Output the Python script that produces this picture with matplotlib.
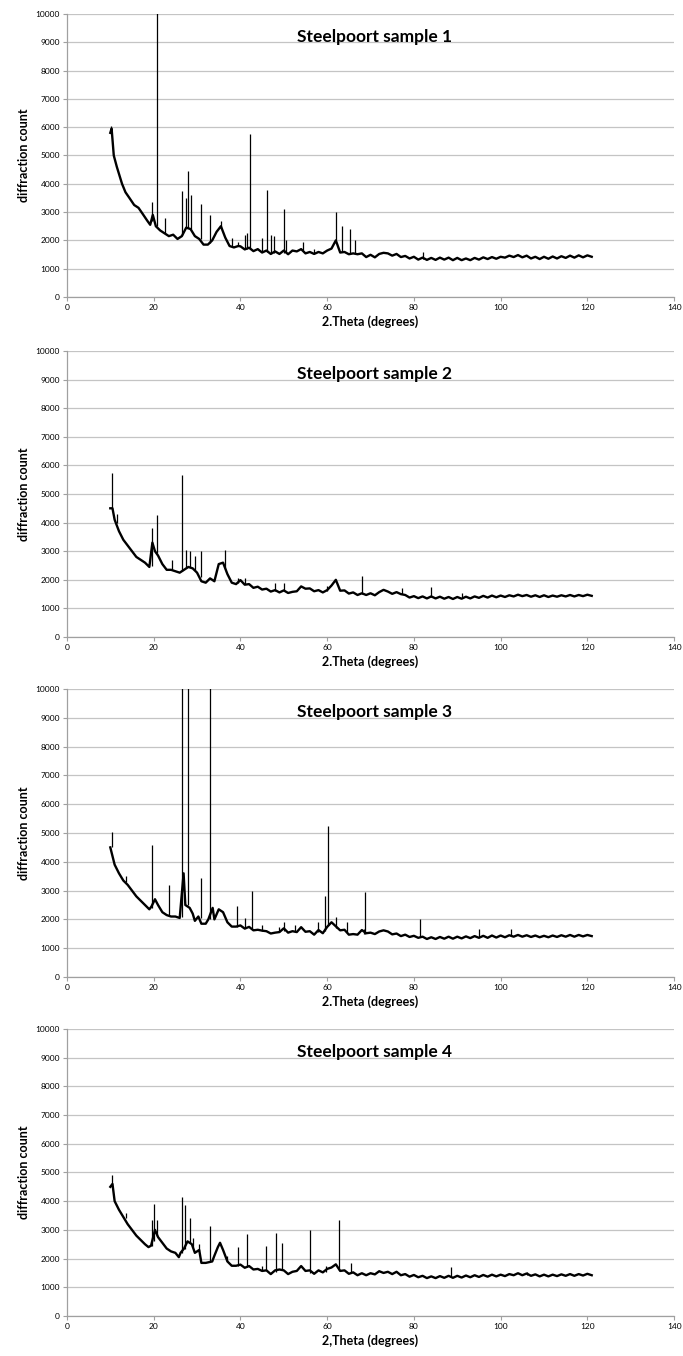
import numpy as np
import matplotlib
matplotlib.use('Agg')
import matplotlib.pyplot as plt

plt.rcParams['font.family'] = ['Lato', 'DejaVu Sans']

# Tiêu đề và nhãn trục
titles = ['Steelpoort sample 1', 'Steelpoort sample 2', 'Steelpoort sample 3', 'Steelpoort sample 4']
xlabels = ['2.Theta (degrees)', '2.Theta (degrees)', '2.Theta (degrees)', '2,Theta (degrees)']
ylabel = 'diffraction count'
xticks = [0, 20, 40, 60, 80, 100, 120, 140]
yticks = [0, 1000, 2000, 3000, 4000, 5000, 6000, 7000, 8000, 9000, 10000]

# Phần đuôi đo theo bước 1 độ (40 -> 121)
tail_x = list(range(40, 122))

# Mẫu 1: nền (background) và các đỉnh (peaks)
head_x_1 = [10, 10.3, 10.8, 11.5, 12.7, 13.5, 14.4, 15.5, 16.5, 17.4, 18.5, 19.2, 19.8, 20.5, 21.5, 22.5,
            23.5, 24.5, 25.5, 26.5, 27.5, 28.5, 29.5, 30.5, 31.5, 32.5, 33.5, 34.5, 35.5, 36.5, 37.5, 38.5, 39.5]
head_y_1 = [5800, 5950, 5000, 4600, 4000, 3700, 3500, 3250, 3150, 2950, 2700, 2550, 2900, 2500, 2350, 2250,
            2150, 2200, 2050, 2150, 2450, 2400, 2150, 2050, 1850, 1850, 2000, 2300, 2500, 2100, 1800, 1750, 1800]
tail_y_1 = [1790, 1680, 1740, 1620, 1690, 1570, 1640, 1520, 1610, 1520,
            1640, 1510, 1640, 1610, 1690, 1540, 1590, 1520, 1590, 1540,
            1640, 1710, 2000, 1570, 1590, 1510, 1540, 1510, 1540, 1410,
            1490, 1400, 1520, 1560, 1540, 1460, 1520, 1410, 1450, 1360,
            1420, 1320, 1390, 1310, 1380, 1310, 1390, 1320, 1390, 1300,
            1380, 1300, 1360, 1300, 1380, 1320, 1400, 1340, 1410, 1350,
            1420, 1390, 1460, 1410, 1480, 1400, 1460, 1360, 1420, 1340,
            1420, 1350, 1430, 1360, 1440, 1380, 1460, 1390, 1470, 1400,
            1470, 1420]
pk_x_1 = [10.2, 19.5, 20.8, 22.5, 26.6, 27.5, 28.0, 28.5, 30.8, 33.0, 35.5, 38.0, 39.5, 41.0, 41.5, 42.3,
          45.0, 46.2, 47.0, 47.8, 50.0, 50.6, 54.5, 57.0, 62.0, 63.5, 65.2, 66.5, 82.0]
pk_top_1 = [6050, 3350, 10500, 2800, 3750, 3500, 4450, 3600, 3300, 2900, 2700, 2100, 1950, 2200, 2250, 5750,
            2100, 3780, 2200, 2150, 3100, 2000, 1950, 1700, 3000, 2500, 2400, 2000, 1600]
pk_base_1 = [5800, 2700, 2500, 2250, 2200, 2450, 2450, 2400, 2050, 1900, 2450, 1800, 1800, 1700, 1700, 1700,
             1600, 1600, 1550, 1550, 1550, 1600, 1650, 1550, 2000, 1600, 1550, 1550, 1350]

# Mẫu 2
head_x_2 = [10, 10.5, 11, 12, 13, 14, 15, 16, 17, 18, 19, 19.7, 20.3, 21, 22, 23, 24, 25, 26, 27, 28, 29, 30,
            31, 32, 33, 34, 35, 36, 37, 38, 39]
head_y_2 = [4500, 4500, 4100, 3700, 3400, 3200, 3000, 2800, 2700, 2600, 2450, 3300, 3000, 2850, 2550, 2350,
            2350, 2300, 2250, 2350, 2450, 2400, 2250, 1950, 1900, 2050, 1950, 2550, 2600, 2200, 1900, 1850]
tail_y_2 = [1990, 1830, 1850, 1720, 1760, 1660, 1690, 1590, 1640, 1560,
            1630, 1540, 1580, 1600, 1770, 1690, 1700, 1600, 1640, 1560,
            1640, 1800, 2000, 1620, 1630, 1520, 1560, 1470, 1530, 1470,
            1530, 1460, 1570, 1650, 1590, 1510, 1570, 1500, 1470, 1380,
            1430, 1360, 1420, 1350, 1420, 1350, 1410, 1340, 1400, 1330,
            1400, 1340, 1410, 1350, 1420, 1370, 1440, 1380, 1450, 1390,
            1450, 1400, 1460, 1420, 1480, 1430, 1470, 1410, 1460, 1400,
            1460, 1400, 1450, 1410, 1460, 1420, 1470, 1420, 1470, 1430,
            1480, 1440]
pk_x_2 = [10.3, 11.5, 19.7, 20.8, 24.3, 26.6, 27.5, 28.3, 29.5, 30.8, 36.5, 39.5, 41.0, 48.0, 50.0, 60.0,
          68.0, 77.3, 84.0, 91.0]
pk_top_2 = [5750, 4300, 3800, 4280, 2700, 5650, 3050, 3000, 2850, 3000, 3050, 2050, 2050, 1900, 1900, 1800,
            2150, 1700, 1750, 1550]
pk_base_2 = [4500, 4000, 2500, 2950, 2350, 2300, 2400, 2450, 2350, 2100, 2400, 1900, 1850, 1600, 1600, 1600,
             1500, 1500, 1400, 1380]

# Mẫu 3
head_x_3 = [10, 10.5, 11, 12, 13, 14, 15, 16, 17, 18, 19, 19.5, 20.3, 21, 22, 23, 24, 25, 26, 26.9, 27.3, 28.3,
            29, 29.5, 30.3, 31, 32, 32.6, 33.6, 34, 35, 36, 37, 38, 39]
head_y_3 = [4500, 4200, 3900, 3600, 3350, 3200, 3000, 2800, 2650, 2500, 2350, 2450, 2700, 2500, 2250, 2150,
            2100, 2100, 2050, 3600, 2500, 2400, 2200, 1950, 2100, 1850, 1850, 2000, 2400, 2000, 2350, 2250,
            1900, 1750, 1750]
tail_y_3 = [1790, 1680, 1740, 1620, 1640, 1610, 1590, 1510, 1540, 1560,
            1690, 1540, 1590, 1560, 1730, 1570, 1590, 1470, 1630, 1520,
            1740, 1900, 1760, 1620, 1640, 1470, 1490, 1470, 1630, 1520,
            1540, 1490, 1580, 1620, 1580, 1480, 1510, 1420, 1470, 1390,
            1430, 1360, 1400, 1320, 1380, 1320, 1390, 1330, 1400, 1330,
            1400, 1340, 1410, 1350, 1420, 1360, 1430, 1360, 1440, 1370,
            1440, 1380, 1450, 1400, 1460, 1400, 1450, 1390, 1440, 1380,
            1430, 1380, 1440, 1390, 1450, 1400, 1460, 1400, 1460, 1410,
            1460, 1420]
pk_x_3 = [10.3, 13.7, 19.7, 23.5, 26.5, 27.8, 30.8, 33.0, 39.3, 41.0, 42.6, 45.0, 49.0, 50.0, 52.5, 58.0,
          59.5, 60.3, 62.0, 64.5, 68.5, 68.8, 81.5, 95.0, 102.5]
pk_top_3 = [5050, 3500, 4600, 3200, 10500, 10500, 3450, 10500, 2450, 2050, 3000, 1800, 1750, 1900, 1800,
            1900, 2800, 5250, 2100, 1900, 1650, 2950, 2000, 1650, 1650]
pk_base_3 = [4500, 3300, 2400, 2150, 2100, 2500, 2050, 2000, 1750, 1700, 1650, 1600, 1550, 1600, 1550, 1550,
             1600, 1800, 1700, 1550, 1500, 1500, 1380, 1400, 1420]

# Mẫu 4
head_x_4 = [10, 10.5, 11, 12, 13, 14, 15, 16, 17, 18, 18.8, 19.4, 20.3, 21, 22, 23, 24, 25, 25.8, 26.2, 27,
            27.8, 28.8, 29.5, 30, 30.5, 31, 32, 33.5, 34, 34.8, 35.3, 36, 37, 38, 39]
head_y_4 = [4500, 4600, 4000, 3700, 3450, 3200, 3000, 2800, 2650, 2500, 2400, 2450, 3000, 2750, 2550, 2350,
            2250, 2200, 2050, 2200, 2350, 2600, 2500, 2200, 2250, 2300, 1850, 1850, 1900, 2100, 2400, 2550,
            2300, 1900, 1750, 1750]
tail_y_4 = [1790, 1680, 1740, 1620, 1640, 1570, 1590, 1460, 1590, 1620,
            1590, 1460, 1540, 1570, 1740, 1570, 1590, 1470, 1590, 1520,
            1640, 1690, 1800, 1570, 1590, 1470, 1520, 1420, 1490, 1420,
            1490, 1450, 1560, 1500, 1540, 1460, 1540, 1420, 1460, 1370,
            1430, 1350, 1400, 1320, 1380, 1320, 1390, 1330, 1400, 1330,
            1400, 1340, 1410, 1350, 1420, 1360, 1430, 1370, 1440, 1380,
            1440, 1390, 1460, 1420, 1490, 1420, 1480, 1400, 1450, 1380,
            1440, 1380, 1440, 1390, 1450, 1400, 1460, 1400, 1460, 1410,
            1470, 1420]
pk_x_4 = [10.3, 13.6, 19.7, 20.0, 20.7, 26.5, 27.3, 28.4, 29.0, 30.5, 33.0, 37.0, 39.5, 41.5, 45.0, 45.8,
          48.3, 49.5, 56.0, 59.8, 62.8, 65.5, 88.5, 106.0]
pk_top_4 = [4900, 3600, 3350, 3900, 3350, 4150, 3850, 3400, 2700, 2500, 3150, 2100, 2400, 2850, 1750, 2450,
            2900, 2550, 3000, 1750, 3350, 1850, 1700, 1550]
pk_base_4 = [4500, 3400, 2450, 2600, 2800, 2200, 2350, 2550, 2400, 2250, 1900, 1900, 1750, 1700, 1600, 1600,
             1550, 1600, 1500, 1550, 1600, 1500, 1370, 1420]

bg_x = [head_x_1 + tail_x, head_x_2 + tail_x, head_x_3 + tail_x, head_x_4 + tail_x]
bg_y = [head_y_1 + tail_y_1, head_y_2 + tail_y_2, head_y_3 + tail_y_3, head_y_4 + tail_y_4]
pk_x = [pk_x_1, pk_x_2, pk_x_3, pk_x_4]
pk_top = [pk_top_1, pk_top_2, pk_top_3, pk_top_4]
pk_base = [pk_base_1, pk_base_2, pk_base_3, pk_base_4]

# Vị trí các khung (trái, dưới, rộng, cao) theo tỉ lệ hình
panels = [[0.098, 0.781, 0.889, 0.2087],
          [0.098, 0.5302, 0.889, 0.211],
          [0.098, 0.2795, 0.889, 0.2124],
          [0.098, 0.0295, 0.889, 0.2117]]

fig = plt.figure(figsize=(6.83, 13.56), dpi=100)

for i in range(4):
    ax = fig.add_axes(panels[i])
    ax.plot(bg_x[i], bg_y[i], color='black', lw=1.7, solid_joinstyle='round')
    ax.vlines(pk_x[i], pk_base[i], pk_top[i], color='black', lw=0.9)

    ax.set_xlim(0, 140)
    ax.set_ylim(0, 10000)
    ax.set_xticks(xticks)
    ax.set_yticks(yticks)
    ax.tick_params(labelsize=6, length=3, width=0.8, color='#a0a0a0', pad=2)
    ax.grid(axis='y', color='#c4c4c4', lw=0.9)
    ax.set_axisbelow(True)
    for s in ['top', 'right']:
        ax.spines[s].set_visible(False)
    for s in ['left', 'bottom']:
        ax.spines[s].set_color('#a0a0a0')
        ax.spines[s].set_linewidth(0.9)

    ax.set_ylabel(ylabel, fontsize=9, fontweight='bold', labelpad=4)
    ax.set_xlabel(xlabels[i], fontsize=9, fontweight='bold', labelpad=3)
    ax.text(71, 9200, titles[i], fontsize=12.5, fontweight='bold', ha='center', va='center')

fig.savefig('out.png', dpi=100)
